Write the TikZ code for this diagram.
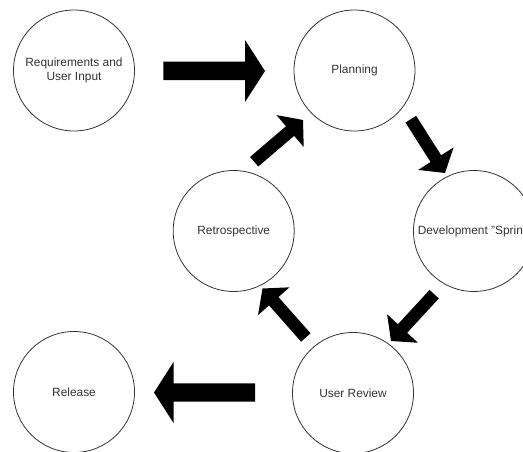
\documentclass[tikz,border=0pt]{standalone}
\usepackage{fontspec}
\setmainfont{Liberation Sans}
\usetikzlibrary{calc}
\definecolor{ink}{HTML}{333333}

% Block arrow from tail centre #1 to tip #2:
% #3 half shaft width, #4 half head width, #5 head length
\newcommand{\blockarrow}[5]{%
  \coordinate (ba-base) at ($(#2)!#5!(#1)$);
  \fill[flow] ($(#1)!#3!90:(#2)$) -- ($(ba-base)!#3!90:(#2)$)
    -- ($(ba-base)!#4!90:(#2)$) -- (#2)
    -- ($(ba-base)!#4!-90:(#2)$) -- ($(ba-base)!#3!-90:(#2)$)
    -- ($(#1)!#3!-90:(#2)$) -- cycle;
}

\begin{document}
\begin{tikzpicture}[x=1pt,y=1pt,
  stage/.style={circle, draw=ink, line width=0.8pt, minimum size=121pt,
    inner sep=0pt, align=center, text=ink,
    font=\fontsize{11.9}{14.6}\selectfont},
  flow/.style={fill=black}]
\useasboundingbox (0,0) rectangle (523,452);
\clip (0,0) rectangle (523,452);

% stages
\node[stage] (req)     at (74,381.5)   {Requirements and\\User Input};
\node[stage] (plan)    at (354.5,381.5) {Planning};
\node[stage] (dev)     at (474,221)    {Development "Sprint"};
\node[stage] (retro)   at (233.7,221)  {Retrospective};
\node[stage] (review)  at (353,59)     {User Review};
\node[stage] (release) at (74,60)      {Release};

% arrow end points
\coordinate (reqplan-s)     at (163.3,381);
\coordinate (reqplan-e)     at (265,381);
\coordinate (retroplan-s)   at (254.2,290.3);
\coordinate (retroplan-e)   at (303,332);
\coordinate (plandev-s)     at (410.8,332.8);
\coordinate (plandev-e)     at (445,279);
\coordinate (devreview-s)   at (434.2,157.8);
\coordinate (devreview-e)   at (391,111);
\coordinate (reviewretro-s) at (305.8,114.5);
\coordinate (reviewretro-e) at (262.5,163.5);
\coordinate (reviewrel-s)   at (255,59.5);
\coordinate (reviewrel-e)   at (154,59.5);

% large horizontal arrows
\blockarrow{reqplan-s}{reqplan-e}{9.25pt}{31pt}{20pt}
\blockarrow{reviewrel-s}{reviewrel-e}{9.2pt}{30.5pt}{19.5pt}

% cycle arrows
\blockarrow{retroplan-s}{retroplan-e}{6.3pt}{21pt}{17pt}
\blockarrow{plandev-s}{plandev-e}{6.3pt}{21pt}{17pt}
\blockarrow{devreview-s}{devreview-e}{6.3pt}{21pt}{17pt}
\blockarrow{reviewretro-s}{reviewretro-e}{6.3pt}{21pt}{17pt}
\end{tikzpicture}
\end{document}
